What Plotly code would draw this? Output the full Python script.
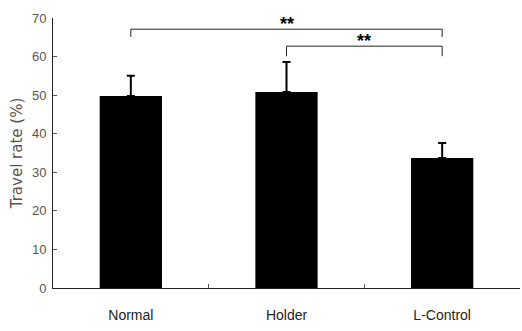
import plotly.graph_objects as go

categories = ["Normal", "Holder", "L-Control"]
means = [49.8, 50.8, 33.7]
errors = [5.2, 7.8, 3.9]
y_ticks = [0, 10, 20, 30, 40, 50, 60, 70]
# significance brackets: (from index, to index, bracket level, leg bottom, label)
sig_from = [0, 1]
sig_to = [2, 2]
sig_level = [67.1, 62.7]
sig_leg = [65.1, 60.1]
sig_label = ["**", "**"]

fig = go.Figure()
fig.add_trace(go.Bar(
    x=categories, y=means, width=0.4,
    marker=dict(color="black", line=dict(width=0)),
    error_y=dict(type="data", array=errors, arrayminus=[0]*len(errors),
                 symmetric=False, color="black", thickness=2, width=4),
))

for f, t, lv, lg, lab in zip(sig_from, sig_to, sig_level, sig_leg, sig_label):
    for x0, x1, y0, y1 in [(f, t, lv, lv), (f, f, lg, lv), (t, t, lg, lv)]:
        fig.add_shape(type="line", xref="x", yref="y", x0=x0, x1=x1, y0=y0, y1=y1,
                      line=dict(color="#222", width=1))
    fig.add_annotation(x=(f + t) / 2, y=lv, text="<b>" + lab + "</b>", showarrow=False,
                       yanchor="bottom", yshift=-7, font=dict(size=18, color="black"))

fig.update_layout(
    width=522, height=331,
    margin=dict(l=53, r=2, t=18, b=43),
    plot_bgcolor="white", paper_bgcolor="white",
    showlegend=False,
    font=dict(family="Liberation Sans Narrow, Arial Narrow, Liberation Sans", color="#333"),
)
fig.update_xaxes(
    range=[-0.5, 2.5], showline=True, linecolor="#222", linewidth=1,
    ticks="inside", tickson="boundaries", ticklen=4, tickcolor="#555",
    tickfont=dict(size=14, color="#222"), showgrid=False, ticklabelstandoff=14,
)
fig.update_yaxes(
    range=[0, 70], tickvals=y_ticks, showline=True, linecolor="#222", linewidth=1,
    ticks="inside", ticklen=4, tickcolor="#555", showgrid=False, zeroline=False,
    tickfont=dict(size=13, color="#555"), ticklabelstandoff=3,
    title=dict(text="Travel rate (%)", font=dict(size=15, color="#555",
               family="DejaVu Sans, Liberation Sans"), standoff=5),
)

fig.write_html("out.html")
